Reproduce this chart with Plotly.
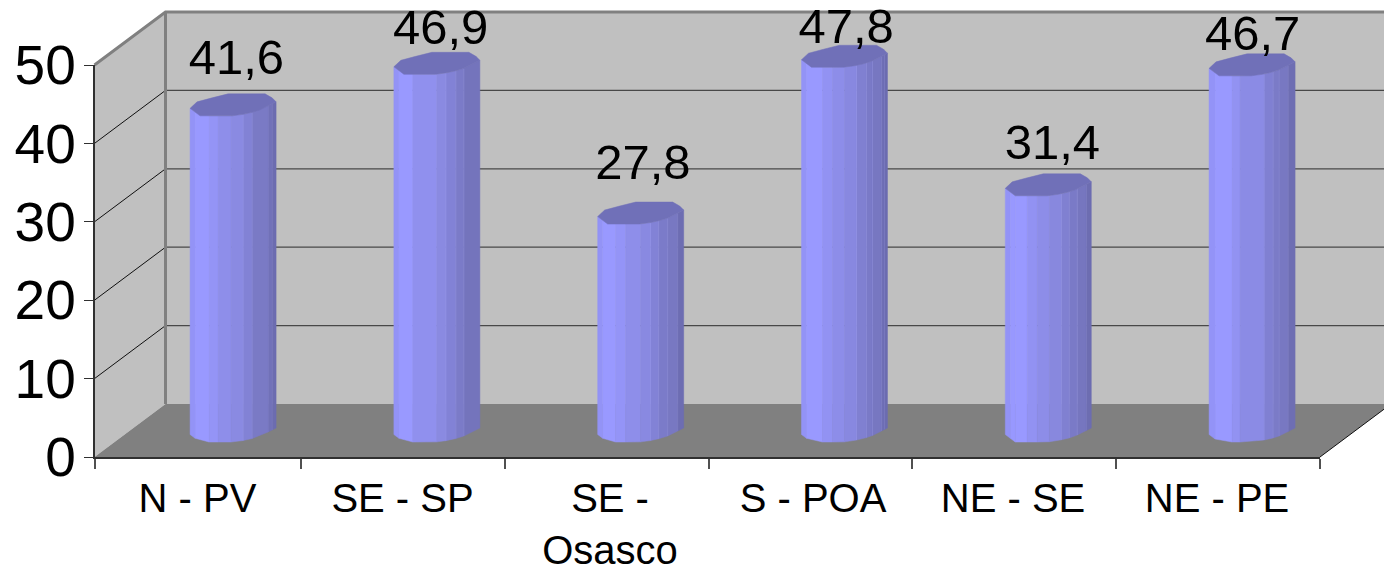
import plotly.graph_objects as go

categories = ["N - PV", "SE - SP", "SE -<br>Osasco", "S - POA", "NE - SE", "NE - PE"]
values = [41.6, 46.9, 27.8, 47.8, 31.4, 46.7]
value_text = ["41,6", "46,9", "27,8", "47,8", "31,4", "46,7"]
label_x = [0.695, 1.695, 2.685, 3.68, 4.69, 5.67]
label_y = [50.4, 54.3, 37.0, 54.4, 39.6, 53.5]
category_pos = [0.504, 1.508, 2.524, 3.518, 4.497, 5.496]
boundary_ticks = [0, 1.01, 2.01, 3.01, 4.0, 5.0, 6]
y_ticks = [0, 10, 20, 30, 40, 50]

W, H = 1384, 566
X0, X1, Y0, Y50 = 94.5, 1320.0, 457.0, 65.0
PX = (X1 - X0) / 6
PY = (Y0 - Y50) / 50
DX = 71 / PX
DY = 53 / PY
N = len(categories)


def ux(p):
    return p / PX


def uy(p):
    return p / PY


# cylinder facets, as pixel-size offsets from the bar's left edge and level
front = [(0, -7.5), (10, 0), (42, 0), (53, -1.5), (62, -3.5), (70, -6), (86, -14)]
back = [(86, -14), (82, -18), (75, -22), (38, -22), (22, -18), (7, -14), (0, -7.5)]
facets = [
    [0, 5, 19, 28, 41, 53, 62, 78, 82, 86],
    [0, 5, 19, 43, 52, 62, 70, 86],
    [0, 5, 18, 28, 43, 53, 61, 70, 80, 86],
    [0, 5, 21, 31, 43, 55, 65, 71, 80, 83, 86],
    [0, 5, 10, 22, 32, 44, 56, 64, 72, 81, 86],
    [0, 6, 23, 31, 55, 64, 70, 79, 86],
]
ramp = [(0, 0x90, 0xF2), (8, 0x99, 0xFF), (19, 0x99, 0xFF), (24, 0x93, 0xF5), (35, 0x8E, 0xEA),
        (47, 0x8A, 0xE2), (57, 0x82, 0xD6), (66, 0x7B, 0xC8), (75, 0x78, 0xC2), (84, 0x6C, 0xB0), (86, 0x6C, 0xB0)]
top_color = "#7070B8"
BAR_LEFT = 0.468
BAR_STEP = 203.8 / PX
BAR_BASE = uy(15)


def outline(p):
    for (a, ya), (b, yb) in zip(front, front[1:]):
        if a <= p <= b:
            return ya + (yb - ya) * (p - a) / (b - a)
    return 0


def shade(p, lift=0):
    for (a, r0, b0), (b, r1, b1) in zip(ramp, ramp[1:]):
        if a <= p <= b:
            t = (p - a) / (b - a)
            r, bl = r0 + (r1 - r0) * t + lift, b0 + (b1 - b0) * t + lift
            return f"rgb({r:.0f},{r:.0f},{min(bl, 255):.0f})"
    return "rgb(108,108,176)"


fig = go.Figure()


def poly(xs, ys, fill, line=None, width=0):
    fig.add_trace(go.Scatter(x=xs, y=ys, mode="lines", fill="toself",
                             fillcolor=fill, line=dict(color=line or fill, width=width),
                             hoverinfo="skip", showlegend=False))


def seg(xs, ys, color, width):
    fig.add_trace(go.Scatter(x=xs, y=ys, mode="lines", line=dict(color=color, width=width),
                             hoverinfo="skip", showlegend=False))


# walls and floor
poly([0, DX, DX, 0, 0], [0, DY, 50 + DY, 50, 0], "#C0C0C0")
poly([DX, 6 + DX, 6 + DX, DX, DX], [DY, DY, 50 + DY, 50 + DY, DY], "#C0C0C0")
poly([0, 6, 6 + DX, DX, 0], [0, 0, DY, DY, 0], "#808080")

for t in y_ticks[1:-1]:
    seg([DX, 6 + DX], [t + DY, t + DY], "#484848", 1.3)
    seg([0, DX], [t, t + DY], "#101010", 1)
seg([DX, DX], [DY, 50 + DY], "#808080", 3)
seg([0, DX, 6 + DX], [50, 50 + DY, 50 + DY], "#808080", 3)
seg([6, 6 + DX], [0, DY], "#101010", 1)

# cylinders
for i, v in enumerate(values):
    left = BAR_LEFT + i * BAR_STEP
    edges = facets[i]
    for a, b in zip(edges, edges[1:]):
        c = shade((a + b) / 2)
        xs = [left + ux(a), left + ux(b), left + ux(b), left + ux(a), left + ux(a)]
        ya, yb = uy(-outline(a)), uy(-outline(b))
        ys = [BAR_BASE + ya, BAR_BASE + yb, BAR_BASE + v + yb, BAR_BASE + v + ya, BAR_BASE + ya]
        poly(xs, ys, c, c, 0.5)
    for e in edges[1:-1]:
        if e >= 50:
            yy = uy(-outline(e))
            seg([left + ux(e), left + ux(e)], [BAR_BASE + yy, BAR_BASE + v + yy], shade(e, 16), 0.7)
    ring = front + back[1:]
    poly([left + ux(p) for p, _ in ring],
         [BAR_BASE + v + uy(-q) for _, q in ring], top_color, top_color, 0.5)

# value labels
fig.add_trace(go.Scatter(x=label_x, y=label_y, mode="text", text=value_text,
                         textposition="middle center",
                         textfont=dict(family="Liberation Sans", size=49, color="#000000"),
                         hoverinfo="skip", showlegend=False))
# real axes trace
fig.add_trace(go.Scatter(x=[0.5], y=[0], xaxis="x2", yaxis="y2", mode="markers",
                         marker=dict(opacity=0), hoverinfo="skip", showlegend=False))

fig.update_layout(
    width=W, height=H, margin=dict(l=0, r=0, t=0, b=0),
    paper_bgcolor="#FFFFFF", plot_bgcolor="rgba(0,0,0,0)", showlegend=False,
    hovermode=False,
    xaxis=dict(domain=[0, 1], range=[-X0 / PX, (W - X0) / PX], visible=False, automargin=False),
    yaxis=dict(domain=[0, 1], range=[-(H - Y0) / PY, Y0 / PY], visible=False, automargin=False),
    xaxis2=dict(domain=[X0 / W, X1 / W], range=[0, 6], anchor="y2", automargin=False,
                tickmode="array", tickvals=category_pos, ticktext=categories,
                ticks="", showgrid=False, zeroline=False, showline=True, linecolor="#303030", linewidth=1.5,
                tickfont=dict(family="Liberation Sans", size=40, color="#000000"),
                ticklabelstandoff=5,
                minor=dict(tickmode="array", tickvals=boundary_ticks, ticks="outside",
                           ticklen=10, tickcolor="#505050", tickwidth=1.5, showgrid=False)),
    yaxis2=dict(domain=[(H - Y0) / H, (H - Y50) / H], range=[0, 50], anchor="x2", automargin=False,
                tickmode="array", tickvals=y_ticks, ticktext=[str(t) for t in y_ticks],
                ticks="outside", ticklen=9, tickcolor="#303030", tickwidth=1,
                showgrid=False, zeroline=False, showline=True, linecolor="#303030", linewidth=1.5,
                tickfont=dict(family="Liberation Sans", size=55, color="#000000"),
                ticklabelstandoff=-3),
)

fig.write_html("out.html", config=dict(displayModeBar=False),
               post_script="document.body.style.margin='0';document.body.style.overflow='hidden';")
